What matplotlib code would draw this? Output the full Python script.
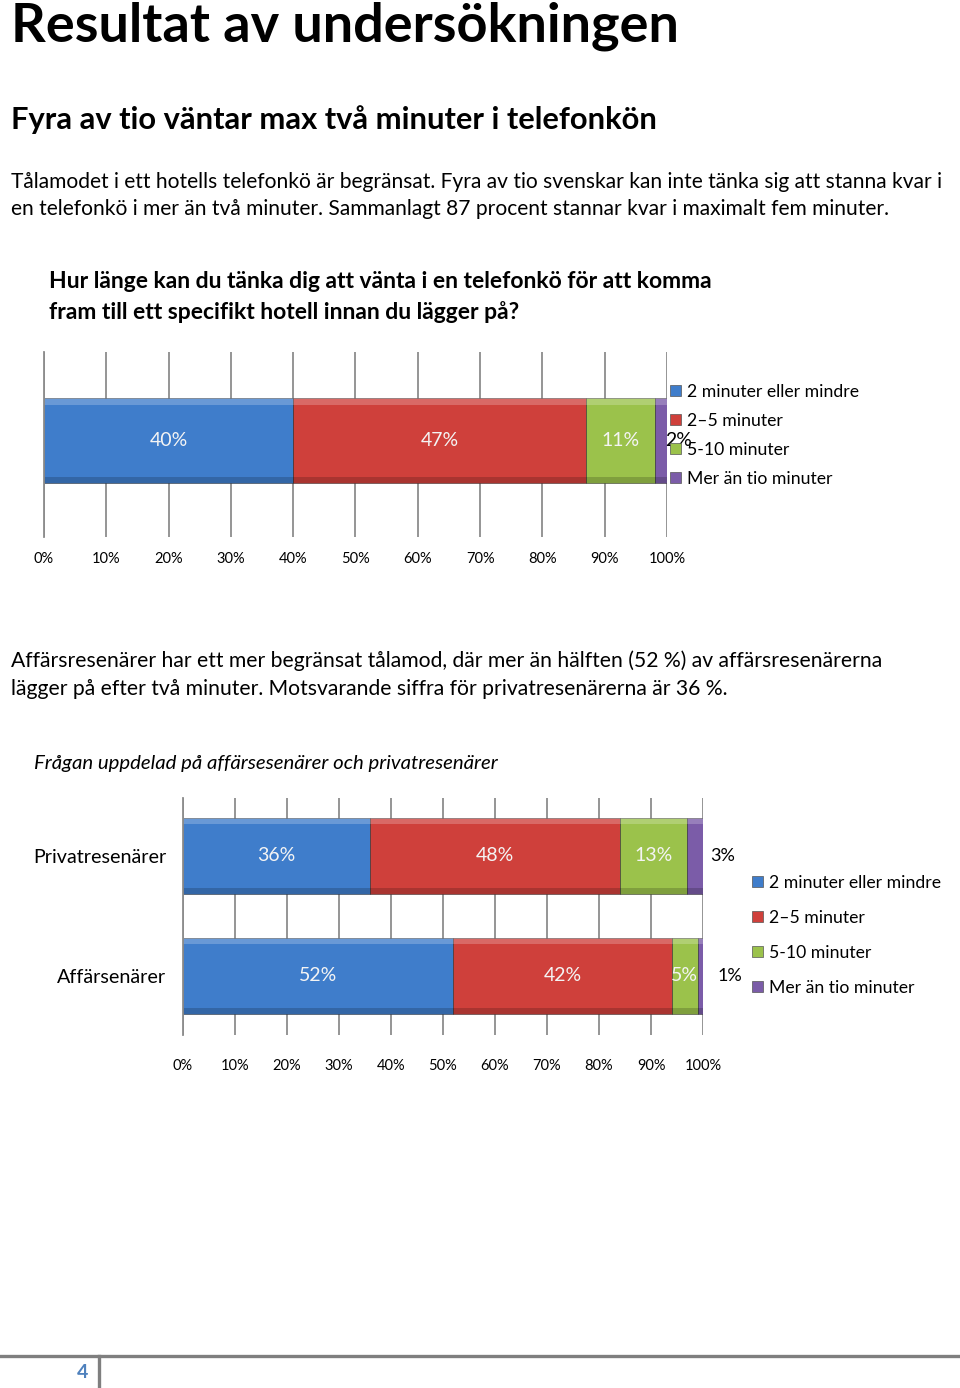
import numpy as np
import matplotlib
matplotlib.use('Agg')
import matplotlib.pyplot as plt
from matplotlib.patches import Patch
from matplotlib.lines import Line2D

plt.rcParams['font.family'] = ['Lato', 'DejaVu Sans']

# data
serier = ['2 minuter eller mindre', '2\u20135 minuter', '5-10 minuter', 'Mer än tio minuter']
farger = ['#3f7dcb', '#cf403b', '#9bc24b', '#7b5ca8']
totalt = [40, 47, 11, 2]
grupper = ['Affärsenärer', 'Privatresenärer']
affars = [52, 42, 5, 1]
privat = [36, 48, 13, 3]
ticks = np.arange(0, 101, 10)

W, H = 960, 1388
fig = plt.figure(figsize=(W / 100, H / 100), dpi=100)


def fy(p):
    return 1 - p / H


def fx(p):
    return p / W


def ftext(x, y, s, **kw):
    fig.text(fx(x), fy(y), s, va='center', ha='left', color='black', **kw)


# texts
ftext(11, 26, 'Resultat av undersökningen', fontsize=39, fontweight='bold')
ftext(11, 120, 'Fyra av tio väntar max två minuter i telefonkön', fontsize=22.2, fontweight='bold')
ftext(11, 182, 'Tålamodet i ett hotells telefonkö är begränsat. Fyra av tio svenskar kan inte tänka sig att stanna kvar i',
      fontsize=15.1)
ftext(11, 209, 'en telefonkö i mer än två minuter. Sammanlagt 87 procent stannar kvar i maximalt fem minuter.',
      fontsize=15.1)
ftext(49, 282, 'Hur länge kan du tänka dig att vänta i en telefonkö för att komma', fontsize=16.5, fontweight='bold')
ftext(49, 312, 'fram till ett specifikt hotell innan du lägger på?', fontsize=16.5, fontweight='bold')
ftext(11, 661, 'Affärsresenärer har ett mer begränsat tålamod, där mer än hälften (52 %) av affärsresenärerna',
      fontsize=15.2)
ftext(11, 689, 'lägger på efter två minuter. Motsvarande siffra för privatresenärerna är 36 %.', fontsize=15.2)
ftext(34, 763, 'Frågan uppdelad på affärsesenärer och privatresenärer', fontsize=14.7, fontstyle='italic')


def style_ax(ax, pad):
    ax.set_xlim(0, 100)
    ax.set_xticks(ticks)
    ax.set_xticklabels([f'{t}%' for t in ticks], fontsize=10.5)
    ax.tick_params(axis='x', length=0, pad=pad)
    ax.tick_params(axis='y', length=0)
    ax.grid(axis='x', color='#8c8c8c', linewidth=1.3)
    ax.set_axisbelow(True)
    for s in ['top', 'right', 'bottom']:
        ax.spines[s].set_visible(False)
    ax.spines['left'].set_color('#8c8c8c')
    ax.spines['left'].set_linewidth(1.3)


def segment(ax, y, left, v, c, h):
    # bar with a light top edge and darker bottom edge (bevel look)
    ax.barh(y, v, left=left, height=h, color=c, edgecolor='#2f2f2f', linewidth=0.4)
    ax.barh(y + h * 0.46, v, left=left, height=h * 0.08, color='white', alpha=0.22, linewidth=0)
    ax.barh(y - h * 0.46, v, left=left, height=h * 0.08, color='black', alpha=0.18, linewidth=0)


def bar_label(ax, x, y, v, inside):
    if inside:
        ax.text(x, y, f'{v}%', ha='center', va='center', color='#f4f4f4', fontsize=14)
    else:
        ax.text(x, y, f'{v}%', ha='center', va='center', color='black', fontsize=14, clip_on=False)


# chart 1
ax1 = fig.add_axes([fx(44), fy(537), fx(667 - 44), (537 - 352) / H])
left = 0
for v, c in zip(totalt, farger):
    segment(ax1, 0, left, v, c, 0.46)
    if v >= 5:
        bar_label(ax1, left + v / 2, 0, v, True)
    else:
        bar_label(ax1, 101.8, 0, v, False)
    left += v
ax1.set_ylim(-0.52, 0.48)
ax1.set_yticks([])
style_ax(ax1, 11)

handles = [Patch(facecolor=c, edgecolor='#555555', linewidth=0.5) for c in farger]
ax1.legend(handles, serier, loc='upper left', bbox_to_anchor=(fx(670), fy(384)),
           bbox_transform=fig.transFigure, frameon=False, fontsize=12.7, borderpad=0,
           handlelength=0.6, handleheight=0.6, handletextpad=0.35, labelspacing=0.73, borderaxespad=0)

# chart 2
ax2 = fig.add_axes([fx(183), fy(1035), fx(703 - 183), (1035 - 798) / H])
for i, vals in enumerate([affars, privat]):
    left = 0
    for v, c in zip(vals, farger):
        segment(ax2, i, left, v, c, 0.633)
        if v >= 5:
            bar_label(ax2, left + v / 2, i, v, True)
        left += v
ax2.text(103.8, 1, f'{privat[3]}%', ha='center', va='center', fontsize=13, clip_on=False)
ax2.text(105.2, 0, f'{affars[3]}%', ha='center', va='center', fontsize=13, clip_on=False)
ax2.set_ylim(-0.492, 1.483)
ax2.set_yticks([0, 1])
ax2.set_yticklabels(grupper, fontsize=14.2)
ax2.tick_params(axis='y', pad=12)
style_ax(ax2, 17)

ax2.legend(handles, serier, loc='upper left', bbox_to_anchor=(fx(752), fy(875)),
           bbox_transform=fig.transFigure, frameon=False, fontsize=12.7, borderpad=0,
           handlelength=0.6, handleheight=0.6, handletextpad=0.35, labelspacing=1.07, borderaxespad=0)

# footer
fig.add_artist(Line2D([0, 1], [fy(1356), fy(1356)], transform=fig.transFigure, color='#7f7f7f', linewidth=2.4))
fig.add_artist(Line2D([fx(99), fx(99)], [fy(1356), fy(1386)], transform=fig.transFigure, color='#7f7f7f',
                      linewidth=2.4))
fig.text(fx(83), fy(1372), '4', ha='center', va='center', color='#4f81bd', fontsize=14, fontweight='bold')

fig.savefig('out.png', dpi=100)
